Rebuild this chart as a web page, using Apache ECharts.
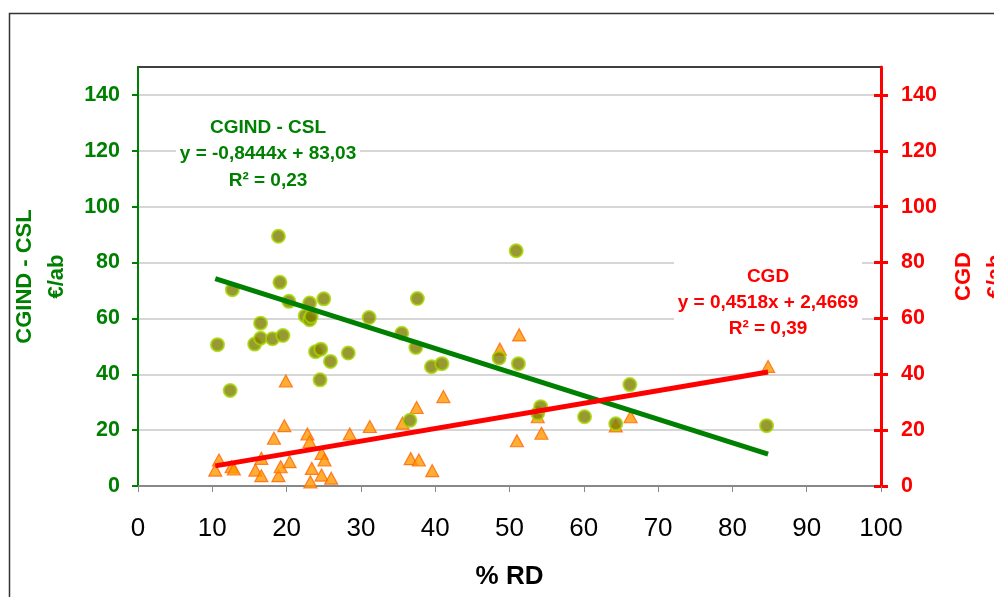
<!DOCTYPE html>
<html>
<head>
<meta charset="utf-8">
<script src="https://cdn.jsdelivr.net/npm/echarts@6/dist/echarts.min.js"></script>
<style>
  html, body { margin: 0; padding: 0; background: #fff; }
</style>
</head>
<body>
<div id="main" style="width: 994px; height: 597px;"></div>
<script>
// CGIND - CSL (circles, left axis) : [% RD, €/ab]
var cgindPoints = [
  [10.7, 50.6], [12.4, 34.2], [12.7, 70.3], [15.7, 50.8], [16.5, 52.9], [16.5, 58.3],
  [18.1, 52.7], [18.9, 89.4], [19.1, 72.9], [19.5, 53.9], [20.3, 66.1], [22.5, 60.9],
  [23.1, 65.5], [23.1, 59.5], [23.3, 60.7], [23.9, 48.1], [24.5, 38.0], [24.6, 49.0],
  [25.0, 67.0], [25.9, 44.6], [28.3, 47.6], [31.1, 60.3], [35.5, 54.7], [36.6, 23.5],
  [37.4, 49.6], [37.6, 67.1], [39.5, 42.7], [40.9, 43.8], [48.6, 45.8], [50.9, 84.2],
  [51.2, 43.8], [53.8, 26.0], [54.2, 28.4], [60.1, 24.8], [64.3, 22.3], [66.2, 36.3],
  [84.6, 21.6]
];
// CGD (triangles, right axis) : [% RD, €/ab]
var cgdPoints = [
  [10.4, 5.7], [10.9, 9.3], [12.6, 6.9], [12.9, 6.1], [15.8, 5.7], [16.6, 9.9],
  [16.6, 3.7], [18.3, 17.1], [18.9, 3.7], [19.2, 6.9], [19.7, 21.6], [19.9, 37.6],
  [20.4, 8.7], [22.8, 18.6], [23.1, 15.9], [23.2, 1.5], [23.4, 6.3], [24.7, 11.7],
  [24.7, 3.9], [25.1, 9.3], [26.0, 2.8], [28.5, 18.6], [31.2, 21.3], [35.6, 22.5],
  [36.7, 9.8], [37.5, 28.1], [37.8, 9.3], [39.6, 5.5], [41.1, 32.0], [48.7, 49.0],
  [51.0, 16.2], [51.3, 54.1], [53.8, 24.8], [54.3, 18.9], [64.3, 21.5], [66.3, 24.8],
  [84.8, 42.8]
];
// trend lines (end points)
var trendX = [10.4, 84.8];
var cgindTrend = [74.2, 11.4];
var cgdTrend = [7.2, 40.8];

var yTicks = [0, 20, 40, 60, 80, 100, 120, 140];
var xTicks = [0, 10, 20, 30, 40, 50, 60, 70, 80, 90, 100];

var GREEN = '#008000';
var RED = '#FF0000';
var FONT = '"Liberation Sans", Arial, sans-serif';

function pairs(xs, ys) {
  return xs.map(function (x, i) { return [x, ys[i]]; });
}

var myChart = echarts.init(document.getElementById('main'));

var option = {
  animation: false,
  textStyle: { fontFamily: FONT },
  grid: {
    left: 138, right: 113, top: 67, bottom: 111,
    outerBoundsMode: 'none',
    containLabel: false,
    show: true,
    borderColor: '#404040',
    borderWidth: 2
  },
  xAxis: {
    type: 'value',
    min: 0, max: 100, interval: 10,
    name: '% RD',
    nameLocation: 'middle',
    nameGap: 78,
    nameTextStyle: { fontSize: 26, fontWeight: 'bold', color: '#000' },
    axisLine: { show: true, lineStyle: { color: '#888', width: 2 } },
    axisTick: { show: true, length: 6, lineStyle: { color: '#888', width: 1 }, customValues: xTicks },
    axisLabel: { fontSize: 26, color: '#000', margin: 30, customValues: xTicks },
    splitLine: { show: false }
  },
  yAxis: [
    {
      type: 'value',
      position: 'left',
      min: 0, max: 150, interval: 10,
      name: 'CGIND - CSL\n€/ab',
      nameLocation: 'middle',
      nameGap: 64,
      nameTextStyle: { fontSize: 22, fontWeight: 'bold', color: GREEN, lineHeight: 32 },
      axisLine: { show: true, lineStyle: { color: GREEN, width: 2 } },
      axisTick: { show: true, length: 6, lineStyle: { color: GREEN, width: 2 }, customValues: yTicks },
      axisLabel: { fontSize: 21.5, fontWeight: 'bold', color: GREEN, margin: 18, customValues: yTicks },
      splitLine: { show: true, lineStyle: { color: '#c8c8c8', width: 1.5 } }
    },
    {
      type: 'value',
      position: 'right',
      min: 0, max: 150, interval: 10,
      name: 'CGD\n€/ab',
      nameLocation: 'middle',
      nameGap: 62,
      nameTextStyle: { fontSize: 22, fontWeight: 'bold', color: RED, lineHeight: 32 },
      axisLine: { show: true, lineStyle: { color: RED, width: 3 } },
      axisTick: { show: true, length: 7, lineStyle: { color: RED, width: 3 }, customValues: yTicks },
      axisLabel: { fontSize: 21.5, fontWeight: 'bold', color: RED, margin: 20, customValues: yTicks },
      splitLine: { show: false }
    },
    {
      // inner half of the red crossing ticks
      type: 'value',
      position: 'right',
      min: 0, max: 150, interval: 10,
      axisLine: { show: false },
      axisTick: { show: true, inside: true, length: 7, lineStyle: { color: RED, width: 3 }, customValues: yTicks },
      axisLabel: { show: false },
      splitLine: { show: false }
    }
  ],
  series: [
    {
      name: 'CGD',
      type: 'scatter',
      yAxisIndex: 1,
      symbol: 'triangle',
      symbolSize: [13, 12],
      itemStyle: { color: '#FF9900', borderColor: '#FF6600', borderWidth: 1.2 },
      data: cgdPoints,
      z: 3
    },
    {
      name: 'CGIND - CSL',
      type: 'scatter',
      yAxisIndex: 0,
      symbol: 'circle',
      symbolSize: 13,
      itemStyle: { color: '#808000', borderColor: '#A5D600', borderWidth: 2 },
      data: cgindPoints,
      z: 4
    },
    {
      type: 'line',
      yAxisIndex: 0,
      showSymbol: false,
      silent: true,
      lineStyle: { color: GREEN, width: 5 },
      data: pairs(trendX, cgindTrend),
      z: 5
    },
    {
      type: 'line',
      yAxisIndex: 1,
      showSymbol: false,
      silent: true,
      lineStyle: { color: RED, width: 5 },
      data: pairs(trendX, cgdTrend),
      z: 5
    }
  ],
  graphic: [
    {
      type: 'rect', z: 100, silent: true,
      shape: { x: 9.5, y: 13.5, width: 1200, height: 800 },
      style: { fill: 'none', stroke: '#333', lineWidth: 1.5 }
    },
    // green regression label
    {
      type: 'rect', z: 1, silent: true,
      shape: { x: 176, y: 114, width: 184, height: 82 },
      style: { fill: '#fff' }
    },
    {
      type: 'text', z: 2, x: 268, y: 128,
      style: { text: 'CGIND - CSL', fill: GREEN, font: 'bold 19px ' + FONT, align: 'center', verticalAlign: 'middle' }
    },
    {
      type: 'text', z: 2, x: 268, y: 154,
      style: { text: 'y = -0,8444x + 83,03', fill: GREEN, font: 'bold 19px ' + FONT, align: 'center', verticalAlign: 'middle' }
    },
    {
      type: 'text', z: 2, x: 268, y: 181,
      style: { text: 'R² = 0,23', fill: GREEN, font: 'bold 19px ' + FONT, align: 'center', verticalAlign: 'middle' }
    },
    // red regression label
    {
      type: 'rect', z: 1, silent: true,
      shape: { x: 674, y: 258, width: 188, height: 86 },
      style: { fill: '#fff' }
    },
    {
      type: 'text', z: 2, x: 768, y: 277,
      style: { text: 'CGD', fill: RED, font: 'bold 19px ' + FONT, align: 'center', verticalAlign: 'middle' }
    },
    {
      type: 'text', z: 2, x: 768, y: 303,
      style: { text: 'y = 0,4518x + 2,4669', fill: RED, font: 'bold 19px ' + FONT, align: 'center', verticalAlign: 'middle' }
    },
    {
      type: 'text', z: 2, x: 768, y: 329,
      style: { text: 'R² = 0,39', fill: RED, font: 'bold 19px ' + FONT, align: 'center', verticalAlign: 'middle' }
    }
  ]
};

myChart.setOption(option);
</script>
</body>
</html>
